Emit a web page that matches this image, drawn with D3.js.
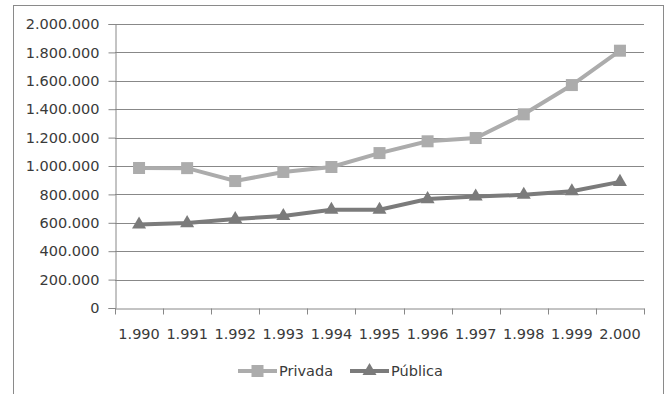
<!DOCTYPE html>
<html>
<head>
<meta charset="utf-8">
<script src="https://cdn.jsdelivr.net/npm/d3@7"></script>
<style>
  body { margin: 0; background: #fff; }
  text { font-family: "DejaVu Sans", sans-serif; fill: #3a3a3a; }
</style>
</head>
<body>
<svg id="chart" width="670" height="394"></svg>
<script>
const years = ["1.990", "1.991", "1.992", "1.993", "1.994", "1.995", "1.996", "1.997", "1.998", "1.999", "2.000"];
const privada = [986000, 985000, 894000, 958000, 993000, 1091000, 1174000, 1197000, 1364000, 1570000, 1812000];
const publica = [588000, 598000, 627000, 648000, 692000, 692000, 767000, 785000, 797000, 822000, 888000];
const yTicks = [0, 200000, 400000, 600000, 800000, 1000000, 1200000, 1400000, 1600000, 1800000, 2000000];

const svg = d3.select("#chart");
const margin = { top: 24, right: 26, bottom: 86, left: 115 };
const width = +svg.attr("width");
const height = +svg.attr("height");
const fontSize = "14.5px";

// outer frame
svg.append("rect")
  .attr("x", 13.5).attr("y", 5.5)
  .attr("width", 650).attr("height", 400)
  .attr("fill", "none").attr("stroke", "#8a8a8a");

const x = d3.scaleBand()
  .domain(years)
  .range([margin.left, width - margin.right]);

const y = d3.scaleLinear()
  .domain([0, 2000000])
  .range([height - margin.bottom, margin.top]);

const fmt = v => d3.format(",")(v).replace(/,/g, ".");

// gridlines
svg.append("g")
  .selectAll("line")
  .data(yTicks.slice(1))
  .join("line")
  .attr("x1", margin.left).attr("x2", width - margin.right)
  .attr("y1", d => Math.round(y(d)) + 0.5).attr("y2", d => Math.round(y(d)) + 0.5)
  .attr("stroke", "#888");

// y axis
const yAxis = svg.append("g")
  .attr("transform", `translate(${margin.left + 0.5},0)`)
  .call(d3.axisLeft(y).tickValues(yTicks).tickFormat(fmt).tickSize(7).tickPadding(9));
yAxis.selectAll("line, path").attr("stroke", "#888");
yAxis.selectAll("text").style("font-size", fontSize).attr("fill", "#3a3a3a");

// x axis
const xAxis = svg.append("g")
  .attr("transform", `translate(0,${Math.round(y(0)) + 0.5})`)
  .call(d3.axisBottom(x).tickSize(0).tickPadding(20));
xAxis.select("path").attr("stroke", "#888");
xAxis.selectAll("text").style("font-size", fontSize).attr("fill", "#3a3a3a");
// category boundary ticks
xAxis.selectAll(".bound")
  .data(years.map(d => x(d)).concat([x.range()[1]]))
  .join("line")
  .attr("x1", d => Math.round(d) + 0.5).attr("x2", d => Math.round(d) + 0.5)
  .attr("y1", 0).attr("y2", 6)
  .attr("stroke", "#888");

const cx = d => x(d) + x.bandwidth() / 2;
const line = d3.line().x((d, i) => cx(years[i])).y(d => y(d));

// Privada
svg.append("path").datum(privada)
  .attr("d", line).attr("fill", "none")
  .attr("stroke", "#acacac").attr("stroke-width", 4);
svg.selectAll(".sq").data(privada).join("rect")
  .attr("x", (d, i) => cx(years[i]) - 6).attr("y", d => y(d) - 6)
  .attr("width", 12).attr("height", 12)
  .attr("fill", "#acacac");

// Pública
svg.append("path").datum(publica)
  .attr("d", line).attr("fill", "none")
  .attr("stroke", "#7b7b7b").attr("stroke-width", 4);
const tri = d3.symbol().type(d3.symbolTriangle).size(85);
svg.selectAll(".tri").data(publica).join("path")
  .attr("d", tri)
  .attr("transform", (d, i) => `translate(${cx(years[i])},${y(d)})`)
  .attr("fill", "#7b7b7b");

// legend
const legend = [
  { name: "Privada", color: "#acacac", sym: "square", x: 238 },
  { name: "Pública", color: "#7b7b7b", sym: "triangle", x: 350 }
];
const ly = 371;
legend.forEach(l => {
  const g = svg.append("g");
  g.append("line").attr("x1", l.x).attr("x2", l.x + 39)
    .attr("y1", ly).attr("y2", ly)
    .attr("stroke", l.color).attr("stroke-width", 4);
  if (l.sym === "square") {
    g.append("rect").attr("x", l.x + 13.5).attr("y", ly - 6)
      .attr("width", 12).attr("height", 12).attr("fill", l.color);
  } else {
    g.append("path").attr("d", tri)
      .attr("transform", `translate(${l.x + 19.5},${ly})`)
      .attr("fill", l.color);
  }
  g.append("text").attr("x", l.x + 41).attr("y", ly + 5)
    .style("font-size", fontSize).text(l.name);
});
</script>
</body>
</html>
